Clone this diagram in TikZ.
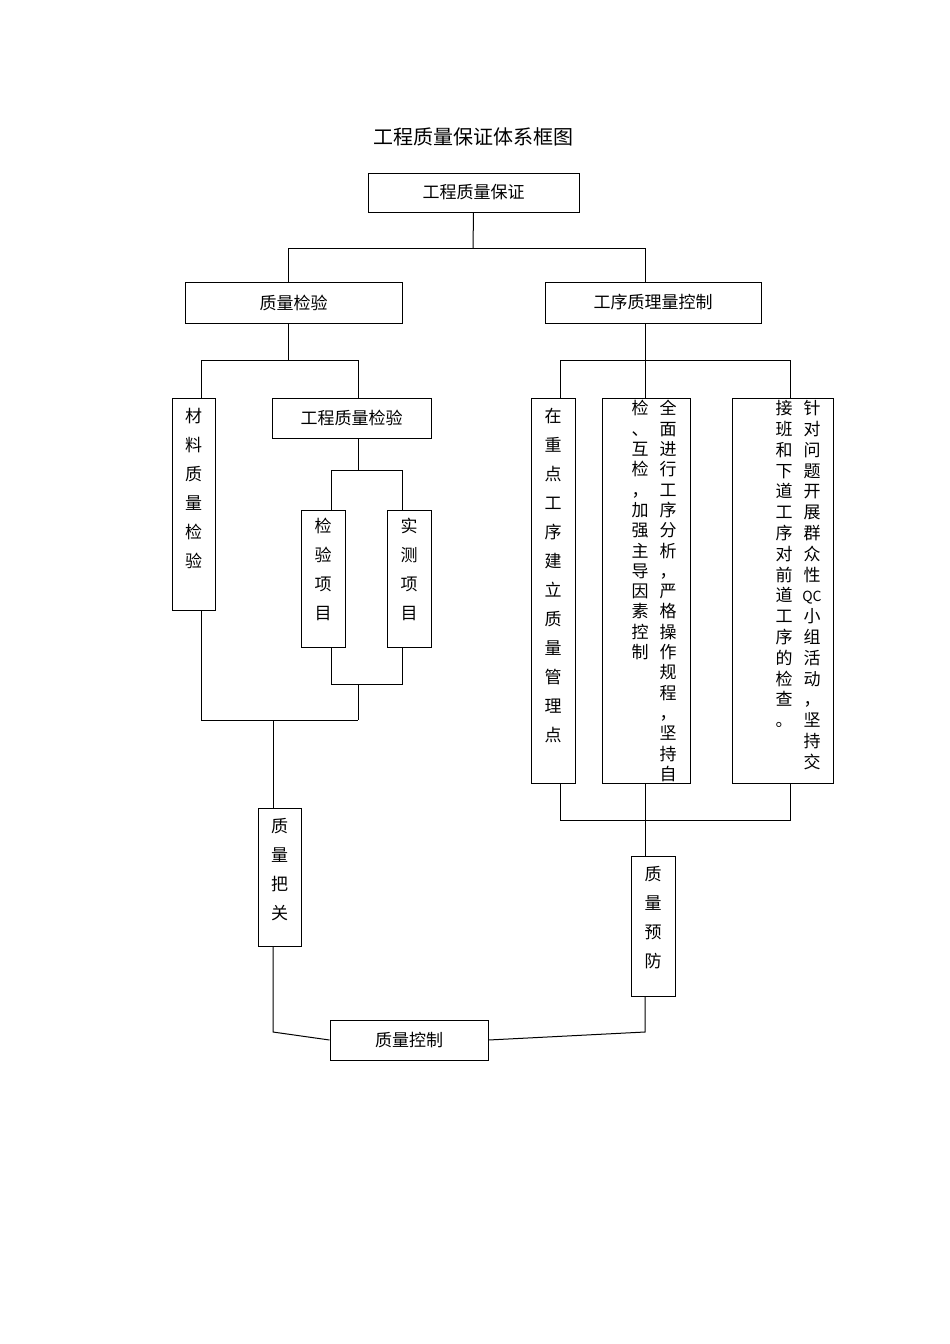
\documentclass[tikz,border=0pt]{standalone}
\usepackage{fontspec}
\setmainfont{Noto Sans CJK SC}
\begin{document}
\begin{tikzpicture}[x=1pt,y=-1pt,line width=1pt,
  bx/.style={draw,minimum width=#1,inner sep=0pt},
  txt/.style={font=\fontsize{17}{20}\selectfont},
  vcol/.style={anchor=north,align=center,inner sep=0pt,font=\fontsize{17}{#1}\selectfont}]
\useasboundingbox (0,0) rectangle (950,1344);
\node[font=\fontsize{20}{24}\selectfont] (title) at (473,137) {工程质量保证体系框图};
% boxes by corners
\newcommand{\bxx}[5]{\node[draw,inner sep=0pt,minimum width=#4-#2,minimum height=#5-#3] (#1) at ({(#2+#4)/2},{(#3+#5)/2}) {};}
\bxx{top}{368}{173}{579}{212}
\bxx{zljy}{185}{282}{402}{323}
\bxx{gxkz}{545}{282}{761}{323}
\bxx{cl}{172}{398}{215}{610}
\bxx{gcjy}{272}{398}{431}{438}
\bxx{jyxm}{301}{510}{345}{647}
\bxx{scxm}{387}{510}{431}{647}
\bxx{zd}{531}{398}{575}{783}
\bxx{qm}{602}{398}{690}{783}
\bxx{zd2}{732}{398}{833}{783}
\bxx{bg}{258}{808}{301}{946}
\bxx{yf}{631}{856}{675}{996}
\bxx{kz}{330}{1020}{488}{1060}
% horizontal texts
\node[txt] (t1) at (top) {工程质量保证};
\node[txt] (t2) at (zljy) {质量检验};
\node[txt] (t3) at (gxkz) {工序质理量控制};
\node[txt] (t4) at (gcjy) {工程质量检验};
\node[txt] (t5) at (kz) {质量控制};
% vertical texts
\node[vcol=29] (v1) at (193.5,408) {材\\料\\质\\量\\检\\验};
\node[vcol=29] (v2) at (323,518) {检\\验\\项\\目};
\node[vcol=29] (v3) at (409,518) {实\\测\\项\\目};
\node[vcol=29] (v4) at (553,408) {在\\重\\点\\工\\序\\建\\立\\质\\量\\管\\理\\点};
\node[vcol=29] (v5) at (279.5,818) {质\\量\\把\\关};
\node[vcol=29] (v6) at (653,866) {质\\量\\预\\防};
\node[vcol=20.3] (v7) at (668,400) {全\\面\\进\\行\\工\\序\\分\\析\\，\\严\\格\\操\\作\\规\\程\\，\\坚\\持\\自};
\node[vcol=20.3] (v8) at (640,400) {检\\、\\互\\检\\，\\加\\强\\主\\导\\因\\素\\控\\制};
\node[vcol=20.8] (v9) at (812,400) {针\\对\\问\\题\\开\\展\\群\\众\\性\\{\fontsize{14}{14}\selectfont QC}\\小\\组\\活\\动\\，\\坚\\持\\交};
\node[vcol=20.8] (v10) at (784,400) {接\\班\\和\\下\\道\\工\\序\\对\\前\\道\\工\\序\\的\\检\\查\\。};
% connectors
\coordinate (a1) at (473,248); \coordinate (a2) at (288,248); \coordinate (a3) at (645,248);
\draw (top.south) -- (a1); \draw (a2) -- (a3);
\draw (a2) -- (288,282); \draw (a3) -- (645,282);
\draw (288,323) -- (288,360); \draw (201,360) -- (358,360);
\draw (201,360) -- (201,398); \draw (358,360) -- (358,398);
\draw (358,438) -- (358,470); \draw (331,470) -- (402,470);
\draw (331,470) -- (331,510); \draw (402,470) -- (402,510);
\draw (331,647) -- (331,684) -- (402,684) -- (402,647);
\draw (201,610) -- (201,720) -- (358,720); \draw (358,684) -- (358,720);
\draw (273,720) -- (273,808);
\draw (273,946) -- (273,1032) -- (kz.west);
\draw (kz.east) -- (645,1032) -- (645,996);
\draw (645,323) -- (645,360); \draw (560,360) -- (790,360);
\draw (560,360) -- (560,398); \draw (645,360) -- (645,398); \draw (790,360) -- (790,398);
\draw (560,783) -- (560,820) -- (790,820) -- (790,783);
\draw (645,783) -- (645,856);
\end{tikzpicture}
\end{document}
